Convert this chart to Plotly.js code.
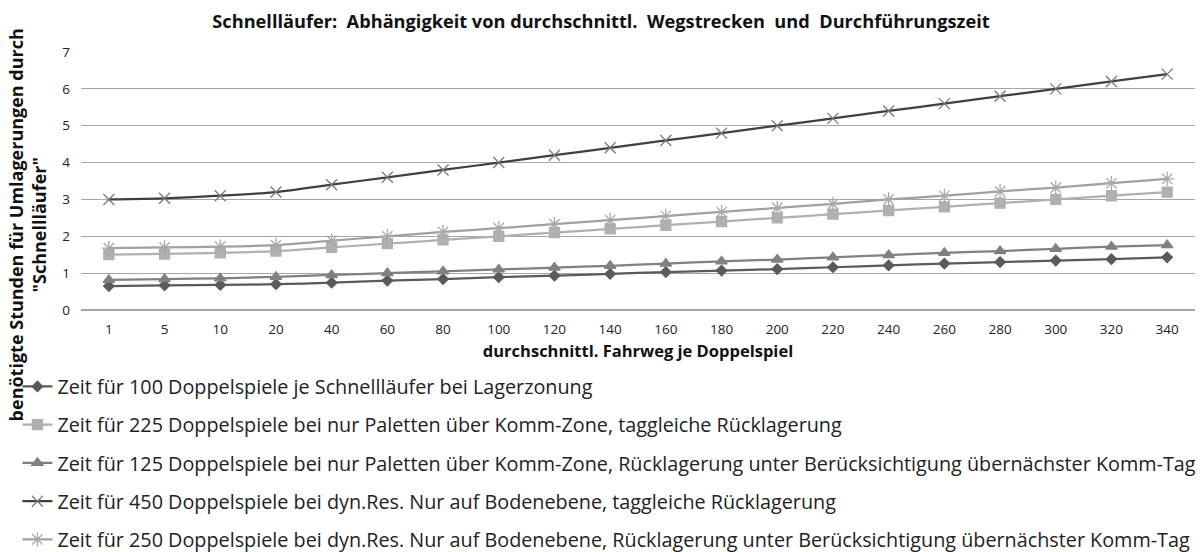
<!DOCTYPE html>
<html>
<head>
<meta charset="utf-8">
<script src="https://cdn.plot.ly/plotly-3.0.1.min.js"></script>
<style>html,body{margin:0;padding:0;background:#fff;}#chart{width:1202px;height:552px;}</style>
</head>
<body>
<div id="chart"></div>
<script>
var categories = ["1","5","10","20","40","60","80","100","120","140","160","180","200","220","240","260","280","300","320","340"];
var seriesNames = [
  "Zeit für 100 Doppelspiele je Schnellläufer bei Lagerzonung",
  "Zeit für 225 Doppelspiele bei nur Paletten über Komm-Zone, taggleiche Rücklagerung",
  "Zeit für 125 Doppelspiele bei nur Paletten über Komm-Zone, Rücklagerung unter Berücksichtigung übernächster Komm-Tag",
  "Zeit für 450 Doppelspiele bei dyn.Res. Nur auf Bodenebene, taggleiche Rücklagerung",
  "Zeit für 250 Doppelspiele bei dyn.Res. Nur auf Bodenebene, Rücklagerung unter Berücksichtigung übernächster Komm-Tag"
];
var s100 = [0.65,0.67,0.68,0.70,0.74,0.80,0.84,0.89,0.93,0.98,1.03,1.07,1.11,1.16,1.21,1.26,1.30,1.34,1.38,1.43];
var s225 = [1.50,1.52,1.55,1.60,1.70,1.80,1.90,2.00,2.10,2.20,2.30,2.40,2.50,2.60,2.70,2.80,2.90,3.00,3.10,3.20];
var s125 = [0.82,0.84,0.86,0.90,0.95,1.00,1.05,1.10,1.15,1.20,1.26,1.32,1.37,1.43,1.49,1.55,1.60,1.66,1.72,1.76];
var s450 = [3.00,3.03,3.10,3.20,3.40,3.60,3.80,4.00,4.20,4.40,4.60,4.80,5.00,5.20,5.40,5.60,5.80,6.00,6.20,6.40];
var s250 = [1.68,1.70,1.72,1.76,1.88,2.00,2.12,2.22,2.33,2.44,2.55,2.66,2.77,2.88,3.00,3.10,3.22,3.32,3.44,3.56];

var values = [s100, s225, s125, s450, s250];
var lineColors = ["#5a5a5a", "#b0b0b0", "#808080", "#404040", "#a0a0a0"];
var markerColors = ["#5a5a5a", "#b0b0b0", "#808080", "#7a7a7a", "#a8a8a8"];
var symbols = ["diamond", "square", "triangle-up", "x-thin-open", "asterisk-open"];
var msizes = [8, 10, 10, 11, 12];

var traces = values.map(function(v, i){
  return {
    x: categories, y: v, name: seriesNames[i], type: "scatter", mode: "lines+markers",
    legendgroup: "g" + i,
    line: {color: lineColors[i], width: 2.25, shape: "spline", smoothing: 0.6},
    marker: {symbol: symbols[i], size: msizes[i], color: markerColors[i], line: {color: markerColors[i], width: 1.3}}
  };
});

var layout = {
  width: 1202, height: 552,
  margin: {l: 81, r: 7, t: 52, b: 242, autoexpand: false},
  paper_bgcolor: "#fff", plot_bgcolor: "#fff",
  font: {family: "Open Sans, sans-serif", color: "#222"},
  title: {text: "<b>Schnellläufer:  Abhängigkeit von durchschnittl.  Wegstrecken  und  Durchführungszeit</b>",
          font: {size: 18.2, color: "#111"}, x: 0.5, xref: "container", y: 0.96, yref: "container", yanchor: "middle"},
  xaxis: {
    type: "category", categoryorder: "array", categoryarray: categories, range: [-0.5, 19.5],
    tickfont: {size: 13.5, color: "#222"}, showgrid: false, zeroline: false, showline: false, ticks: "",
    ticklabelstandoff: 9,
    title: {text: "<b>durchschnittl. Fahrweg je Doppelspiel</b>", font: {size: 16.5, color: "#111"}, standoff: 8}
  },
  yaxis: {
    range: [0, 7], dtick: 1, tickfont: {size: 13.5, color: "#222"},
    showgrid: true, gridcolor: "#a6a6a6", gridwidth: 1.2, zeroline: true, zerolinecolor: "#a6a6a6", zerolinewidth: 1.5,
    showline: false, ticks: "", ticklabelstandoff: 10
  },
  showlegend: true,
  legend: {
    orientation: "v", xref: "container", yref: "container", x: 0.0145, xanchor: "left", y: 0.335, yanchor: "top",
    font: {size: 19.8, color: "#222"}, tracegroupgap: 9.5, itemwidth: 30, bgcolor: "rgba(0,0,0,0)"
  },
  annotations: [{
    text: "<b>benötigte Stunden für Umlagerungen durch<br>\"Schnellläufer\"</b>",
    xref: "paper", yref: "paper", x: -0.048, y: 0.33, xanchor: "center", yanchor: "middle",
    textangle: -90, showarrow: false, font: {size: 18, color: "#111"}
  }]
};

Plotly.newPlot("chart", traces, layout, {displayModeBar: false, staticPlot: true});
</script>
</body>
</html>
